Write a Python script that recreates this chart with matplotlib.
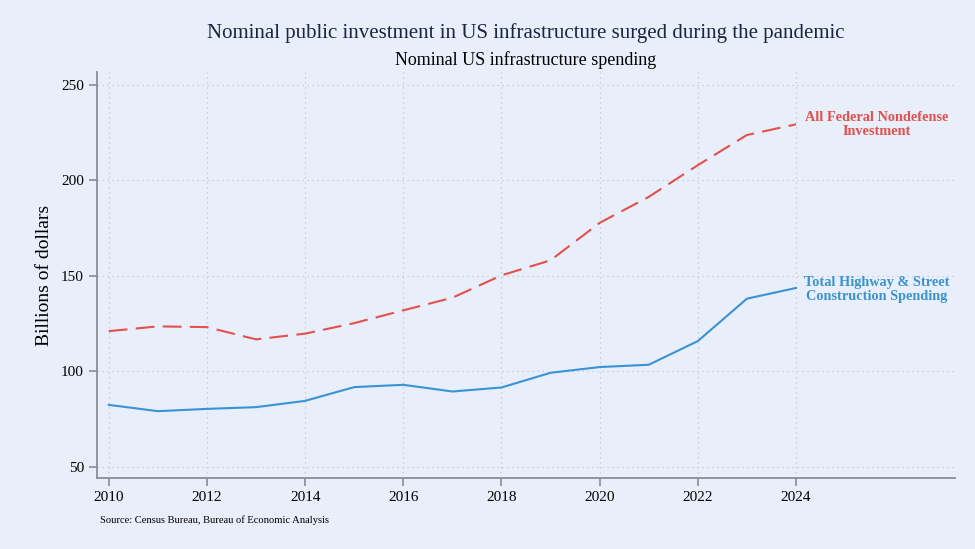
import matplotlib
matplotlib.use("Agg")
import matplotlib.pyplot as plt

years = [2010, 2011, 2012, 2013, 2014, 2015, 2016, 2017, 2018, 2019, 2020, 2021, 2022, 2023, 2024]
federal_nondefense = [121.1, 123.6, 123.2, 116.8, 119.8, 125.3, 132.0, 138.6, 150.3, 158.2, 177.8, 191.4, 208.0, 223.8, 229.4]
highway_street = [82.5, 79.2, 80.4, 81.3, 84.6, 91.8, 93.0, 89.5, 91.6, 99.3, 102.3, 103.5, 115.9, 138.1, 143.7]
xticks = [2010, 2012, 2014, 2016, 2018, 2020, 2022, 2024]
yticks = [50, 100, 150, 200, 250]

bg = "#e8eefa"
red = "#e4504b"
blue = "#3a93d5"
serif = ["Liberation Serif", "DejaVu Serif"]
plt.rcParams["font.family"] = serif

fig = plt.figure(figsize=(9.75, 5.49), dpi=100, facecolor=bg)
ax = fig.add_axes([0.0995, 0.1293, 0.88, 0.7396], facecolor=bg)

ax.plot(years, federal_nondefense, color=red, lw=1.5, dashes=(9, 4))
ax.plot(years, highway_street, color=blue, lw=1.5)

ax.set_xlim(2009.76, 2027.24)
ax.set_ylim(44.2, 256.8)
ax.set_xticks(xticks)
ax.set_yticks(yticks)
ax.grid(True, color="#bfc5d2", linestyle=(0, (1, 3)), linewidth=0.9)
for s in ["top", "right"]:
    ax.spines[s].set_visible(False)
for s in ["left", "bottom"]:
    ax.spines[s].set_color("#8a8d94")
    ax.spines[s].set_linewidth(1.3)
ax.tick_params(axis="both", colors="#8a8d94", length=6, width=1.2, labelcolor="black", labelsize=11)
ax.set_ylabel("Billions of dollars", fontsize=14, labelpad=6)

ax.text(2025.65, 229.3, "All Federal Nondefense\nInvestment", color=red, fontsize=10.3,
        fontweight="bold", ha="center", va="center", linespacing=1.1)
ax.text(2025.65, 142.7, "Total Highway & Street\nConstruction Spending", color=blue, fontsize=10.3,
        fontweight="bold", ha="center", va="center", linespacing=1.1)

fig.text(0.5395, 0.94, "Nominal public investment in US infrastructure surged during the pandemic",
         ha="center", va="center", fontsize=15, color="#1c2440")
fig.text(0.5395, 0.891, "Nominal US infrastructure spending", ha="center", va="center",
         fontsize=13, color="black")
fig.text(0.1026, 0.052, "Source: Census Bureau, Bureau of Economic Analysis", ha="left", va="center",
         fontsize=7.6, color="black")

fig.savefig("out.png", dpi=100, facecolor=bg)
